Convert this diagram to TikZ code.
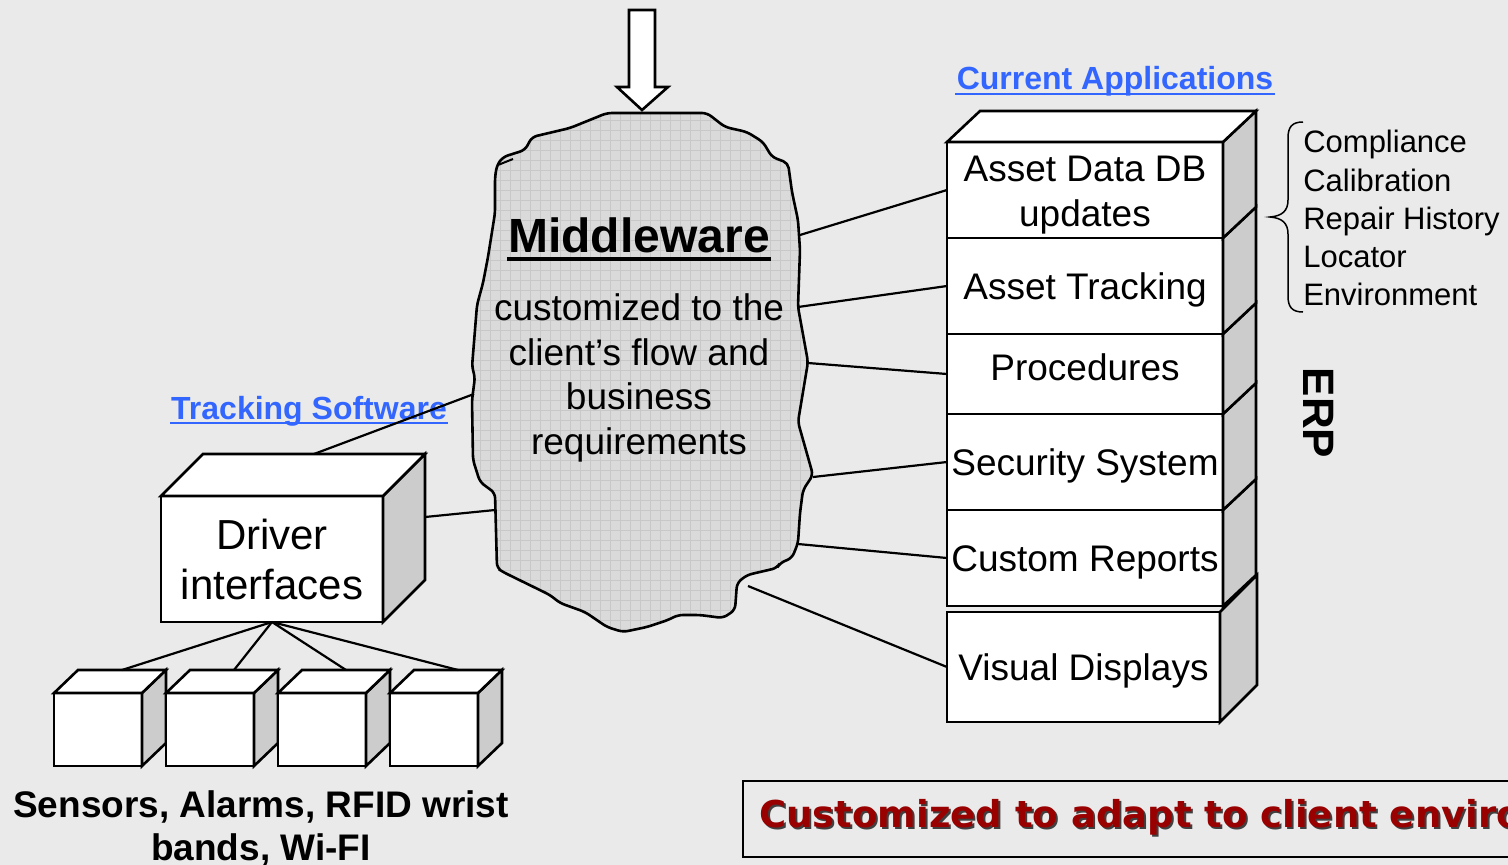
\documentclass[tikz,border=0pt]{standalone}
\usepackage{fontspec}
\setmainfont{Liberation Sans}
\newfontfamily\notefont{DejaVu Sans}
\usetikzlibrary{calc}

\definecolor{bggray}{HTML}{EAEAEA}
\definecolor{cloudgray}{HTML}{DADADA}
\definecolor{gridgray}{HTML}{C8C8C8}
\definecolor{sidegray}{HTML}{CCCCCC}
\definecolor{linkblue}{HTML}{3366FF}
\definecolor{notered}{HTML}{990000}

% side and top face of a box node, #2 #3 = depth
\newcommand{\sideface}[3]{%
  \draw[fill=sidegray] (#1.north east) -- ++(#2,#3) -- ($(#1.south east)+(#2,#3)$) -- (#1.south east) -- cycle;}
\newcommand{\topface}[3]{%
  \draw[fill=white] (#1.north west) -- ++(#2,#3) -- ($(#1.north east)+(#2,#3)$) -- (#1.north east) -- cycle;}

\begin{document}
\begin{tikzpicture}[x=1pt, y=-1pt, line width=2.6,
  appbox/.style={draw, fill=white, outer sep=0, inner xsep=2, inner ysep=0,
    minimum width=276, align=center, font=\fontsize{37}{45}\selectfont},
  oneline/.style={text height=31, text depth=5},
  drvbox/.style={draw, fill=white, outer sep=0, inner sep=0, minimum width=222,
    minimum height=126, align=center, font=\fontsize{42}{50}\selectfont},
  sensbox/.style={draw, fill=white, outer sep=0, inner sep=0, minimum width=88, minimum height=73},
  linklabel/.style={inner sep=0, text=linkblue, font=\fontsize{32}{38}\selectfont\bfseries},
  link/.style={line width=2.2},
  notetext/.style={inner sep=0, font=\notefont\fontsize{37}{44}\selectfont\bfseries}]
\def\dx{33} % depth of the stack in x
\def\dy{-31} % depth of the stack in y

\useasboundingbox (0,0) rectangle (1508,865);
\fill[bggray] (0,0) rectangle (1508,865);
\begin{scope}
\clip (0,0) rectangle (1508,865);

% input arrow
\draw[fill=white] (629,10) -- (655,10) -- (655,87) -- (668,87) -- (642,110) -- (617,87) -- (629,87) -- cycle;

% middleware cloud
\def\cloudpath{[rounded corners=5] (607,113) -- (707,113) -- (725,127) -- (747,132) -- (763,142) -- (772,157)
  -- (788,163) -- (792,192) -- (798,220) -- (800,250) -- (798,307) -- (808,362) -- (798,422) -- (813,475)
  -- (803,490) -- (800,513) -- (798,543) -- (792,558) -- (780,563) -- (777,568) -- (747,575) -- (737,583)
  -- (735,610) -- (723,618) -- (700,615) -- (678,615) -- (668,620) -- (647,627) -- (623,632) -- (607,627)
  -- (585,612) -- (560,603) -- (550,595) -- (503,572) -- (497,568) -- (495,493) -- (480,482) -- (473,460)
  -- (472,400) -- (475,377) -- (472,367) -- (477,305) -- (483,283) -- (488,257) -- (495,213) -- (495,177)
  -- (497,165) -- (503,157) -- (525,150) -- (532,137) -- (570,128) -- cycle}
\fill[cloudgray] \cloudpath;
\begin{scope}
\clip \cloudpath;
\draw[gridgray, line width=0.6, step=10pt] (460,640) grid (830,100);
\end{scope}
\draw \cloudpath;
\draw[line width=2] (498,165) -- (513,159);

\node[inner sep=0, anchor=base, font=\fontsize{48}{56}\selectfont\bfseries] (mwtitle) at (639,252) {Middleware};
\draw[line width=4] ($(mwtitle.base west)+(0,7)$) -- ($(mwtitle.base east)+(0,7)$);
\node[inner sep=0, align=center, font=\fontsize{37}{44.5}\selectfont] (mwtext) at (639,378)
  {customized to the\\client’s flow and\\business\\requirements};

\coordinate (mw-e1) at (800,235);
\coordinate (mw-e2) at (798,307);
\coordinate (mw-e3) at (808,363);
\coordinate (mw-e4) at (813,477);
\coordinate (mw-e5) at (798,544);
\coordinate (mw-e6) at (748,586);
\coordinate (mw-w1) at (474,394);
\coordinate (mw-w2) at (495,510);

% application stack
\node[appbox, oneline, minimum width=273, minimum height=110] (app6) at (1083.5,667) {Visual Displays};
\sideface{app6}{37}{-37}
\node[appbox, oneline, minimum height=96] (app5) at (1085,558) {Custom Reports};
\sideface{app5}{\dx}{\dy}
\node[appbox, oneline, minimum height=96] (app4) at (1085,462) {Security System};
\sideface{app4}{\dx}{\dy}
\node[appbox, text height=31, text depth=19, minimum height=80] (app3) at (1085,374) {Procedures};
\sideface{app3}{\dx}{\dy}
\node[appbox, oneline, minimum height=96] (app2) at (1085,286) {Asset Tracking};
\sideface{app2}{\dx}{\dy}
\node[appbox, minimum height=96] (app1) at (1085,190) {\rule{0pt}{36pt}Asset Data DB\\updates};
\sideface{app1}{\dx}{\dy}
\topface{app1}{\dx}{\dy}

\node[linklabel, anchor=base] (curapp) at (1115,89) {Current Applications};
\draw[linkblue, line width=2.5] ($(curapp.base west)+(0,5)$) -- ($(curapp.base east)+(0,5)$);

\foreach \i/\p in {1/mw-e1, 2/mw-e2, 3/mw-e3, 4/mw-e4, 5/mw-e5, 6/mw-e6}
  \draw[link] (\p) -- (app\i.west);

% application details
\draw[line width=1.5] (1303,122) .. controls (1292,122) and (1288,127) .. (1288,138) -- (1288,200)
  .. controls (1288,211) and (1282,216) .. (1270,217) .. controls (1282,218) and (1288,223) .. (1288,234)
  -- (1288,296) .. controls (1288,307) and (1292,312) .. (1303,312);
\node[inner sep=0, anchor=north west, align=left, font=\fontsize{31}{38.3}\selectfont] (details) at (1302,129)
  {Compliance\\Calibration\\Repair History\\Locator\\Environment};
\node[inner sep=0, rotate=-90, font=\fontsize{44}{50}\selectfont\bfseries] (erp) at (1319,413) {ERP};

% tracking software side
\node[drvbox] (drv) at (272,559) {Driver\\interfaces};
\sideface{drv}{42}{-42}
\topface{drv}{42}{-42}
\coordinate (drv-top) at ($(drv.north)+(42,-42)$);
\coordinate (drv-back) at ($(drv.east)+(42,-42)$);
\draw[link] (drv-back) -- (mw-w2);

\node[linklabel, anchor=base] (trk) at (309,419) {Tracking Software};
\draw[linkblue, line width=2.5] ($(trk.base west)+(0,4)$) -- ($(trk.base east)+(0,4)$);
\draw[link] (drv-top) -- (mw-w1);

\foreach \i in {1,...,4} {
  \node[sensbox] (sn\i) at ({98+112*(\i-1)},729.5) {};
  \sideface{sn\i}{24}{-23}
  \topface{sn\i}{24}{-23}
  \coordinate (sn\i-top) at ($(sn\i.north)+(24,-23)$);
  \draw[link] (drv.south) -- (sn\i-top);
}
\node[inner sep=0, align=center, font=\fontsize{37}{43}\selectfont\bfseries] (sens) at (261,828)
  {Sensors, Alarms, RFID wrist\\bands, Wi-FI};

% note
\node[draw, line width=2, anchor=west, minimum width=900, minimum height=76] (note) at (742,819) {};
\node[notetext, anchor=base west, text=black!75] at ($(note.west)+(18,10)$) {Customized to adapt to client environment};
\node[notetext, anchor=base west, text=notered] (notetxt) at ($(note.west)+(16,8)$) {Customized to adapt to client environment};
\end{scope}
\end{tikzpicture}
\end{document}
